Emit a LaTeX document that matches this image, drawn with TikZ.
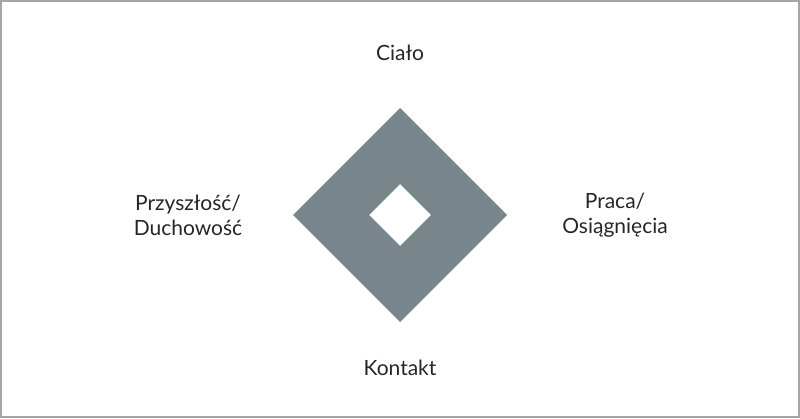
\documentclass[tikz,border=0pt]{standalone}
\usepackage{fontspec}
\setmainfont{Lato}
\usetikzlibrary{shapes.geometric, positioning}
\definecolor{slate}{HTML}{78868C}
\tikzstyle{label} = [font=\fontsize{21}{25}\selectfont, align=center, text=black!85]
\begin{document}
\begin{tikzpicture}[x=1pt, y=1pt]
    % Frame
    \draw[gray!70, line width=1.5pt] (1,1) rectangle (799,417);
    \useasboundingbox (0,0) rectangle (800,418);
    % Diamond
    \fill[slate, even odd rule] (400,96) -- (507,203) -- (400,310) -- (293,203) -- cycle
        (400,172) -- (431,203) -- (400,234) -- (369,203) -- cycle;
    \coordinate (core) at (400,203);
    % Labels
    \node[label] (body) at (400,365) {Ciało};
    \node[label] (contact) at (400,50) {Kontakt};
    \node[label] (future) at (188,203) {Przyszłość/\\Duchowość};
    \node[label] (work) at (615,203) {Praca/\\Osiągnięcia};
\end{tikzpicture}
\end{document}
